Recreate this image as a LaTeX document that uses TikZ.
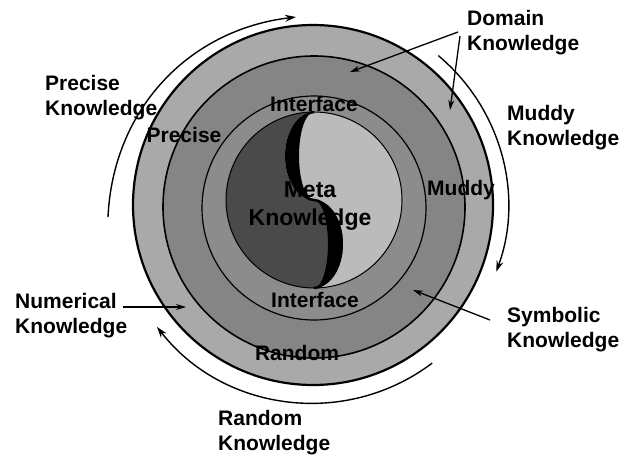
\documentclass[tikz,border=0pt]{standalone}
\usepackage{fontspec}
\setmainfont{Liberation Sans}
\usetikzlibrary{arrows.meta}
\definecolor{ringA}{HTML}{A9A9A9}
\definecolor{ringB}{HTML}{858585}
\definecolor{ringC}{HTML}{8C8C8C}
\definecolor{yin}{HTML}{4A4A4A}
\definecolor{yang}{HTML}{BBBBBB}
\tikzset{
  lbl/.style={font=\fontsize{21}{25}\selectfont\bfseries, align=left, inner sep=0pt, anchor=north west},
  inlbl/.style={font=\fontsize{21}{24}\selectfont\bfseries, inner sep=0pt, anchor=base},
  ptr/.style={line width=1.3pt, -{Stealth[length=10pt,width=6pt]}},
  cyc/.style={line width=1.4pt, -{Stealth[length=11pt,width=7pt]}}
}
\begin{document}
\begin{tikzpicture}[x=1pt,y=-1pt]
\useasboundingbox (0,0) rectangle (628,455);
% rings
\filldraw[fill=ringA, line width=2.2pt] (313,205) circle[radius=180];
\filldraw[fill=ringB, line width=1.6pt] (314,207) circle[radius=151];
\filldraw[fill=ringC, line width=1.2pt] (314,208) circle[radius=112];
% yin-yang
\fill[yang] (314,200) circle[radius=88];
\fill[yin] (314,112) arc[start angle=270, end angle=90, radius=88]
  arc[start angle=90, end angle=-90, x radius=29, y radius=44]
  arc[start angle=90, end angle=270, x radius=29, y radius=44] -- cycle;
\fill[black] (314,200) arc[start angle=90, end angle=270, x radius=29, y radius=44]
  arc[start angle=270, end angle=90, x radius=15, y radius=44] -- cycle;
\fill[black] (314,288) arc[start angle=90, end angle=-90, x radius=29, y radius=44]
  arc[start angle=-90, end angle=90, x radius=14, y radius=44] -- cycle;
\draw[line width=2.5pt] (314,288) arc[start angle=90, end angle=-90, x radius=22, y radius=44]
  arc[start angle=90, end angle=270, x radius=22, y radius=44];
\draw[line width=1pt] (314,200) circle[radius=88];
% inner labels
\node[inlbl] (itop) at (314,111) {Interface};
\node[inlbl] (ibot) at (315,307) {Interface};
\node[inlbl] (prec) at (184,142) {Precise};
\node[inlbl] (mud) at (461,195) {Muddy};
\node[inlbl] (rnd) at (297,360) {Random};
\node[font=\fontsize{23}{28}\selectfont\bfseries, inner sep=0pt, align=center] (meta) at (310,206) {Meta\\Knowledge};
% outer labels
\node[lbl] (pk) at (45,75) {Precise\\Knowledge};
\node[lbl] (dk) at (467,10) {Domain\\Knowledge};
\node[lbl] (mk) at (507,105) {Muddy\\Knowledge};
\node[lbl] (nk) at (15,293) {Numerical\\Knowledge};
\node[lbl] (sk) at (507,307) {Symbolic\\Knowledge};
\node[lbl] (rk) at (218,410) {Random\\Knowledge};
% pointers
\coordinate (domA) at (458,32);
\coordinate (domB) at (460,36);
\coordinate (domT1) at (350,72);
\coordinate (domT2) at (450,110);
\coordinate (numA) at (123,307);
\coordinate (numT) at (186,307);
\coordinate (symA) at (490,320);
\coordinate (symT) at (413,290);
\draw[ptr] (domA) -- (domT1);
\draw[ptr] (domB) -- (domT2);
\draw[ptr] (numA) -- (numT);
\draw[ptr] (symA) -- (symT);
% cycle arcs
\coordinate (cA) at (108,217);
\coordinate (cB) at (296,17);
\draw[cyc] (cA) .. controls (113,110) and (188,30) .. (cB);
\draw[cyc] (313,205) ++(-50:195) arc[start angle=-50, end angle=20, radius=195];
\draw[cyc] (313,205) ++(53:198) arc[start angle=53, end angle=142, radius=198];
\end{tikzpicture}
\end{document}
